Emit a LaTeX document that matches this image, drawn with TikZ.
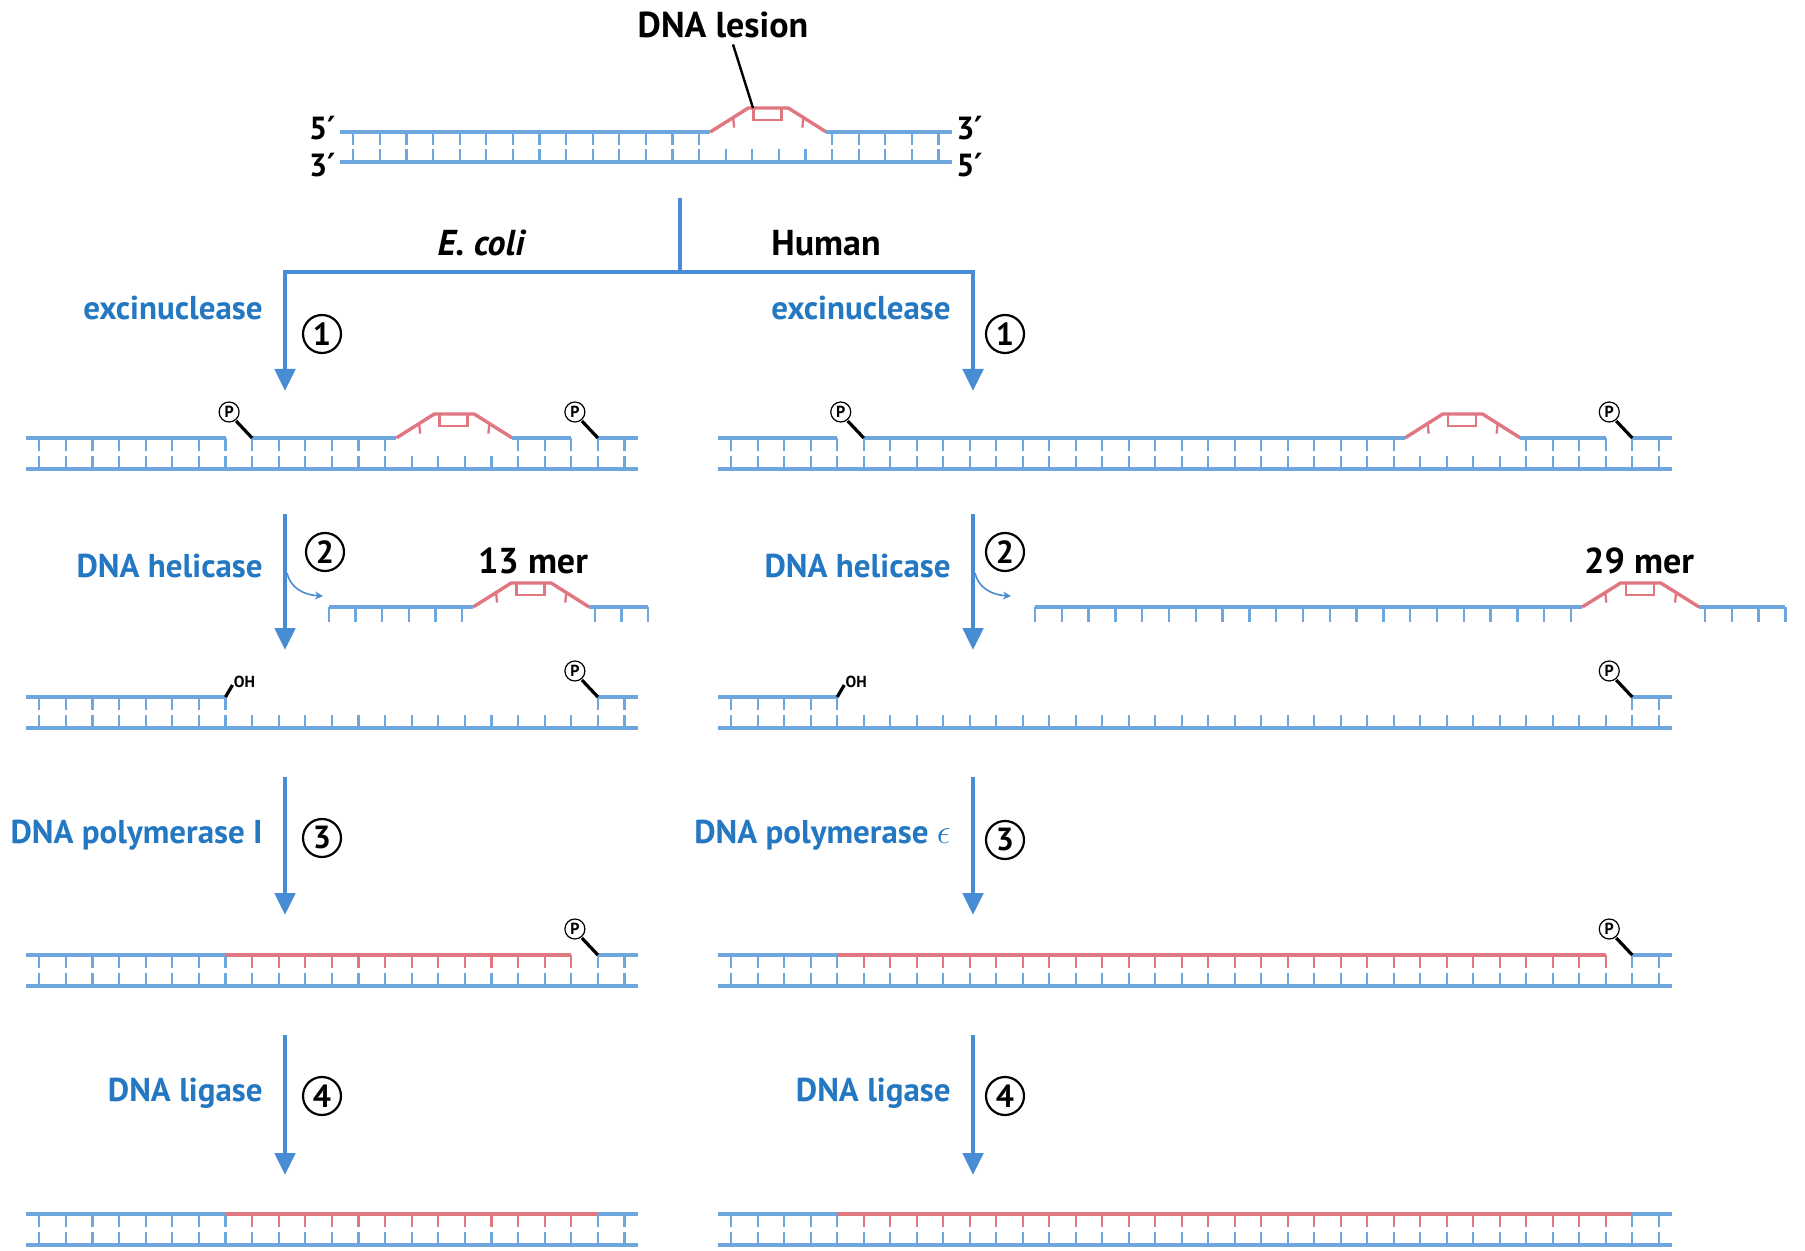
\documentclass[tikz,border=0pt]{standalone}
\usepackage{fontspec}
\setmainfont{PT Sans}
\newfontfamily\primefont{DejaVu Sans}
\usetikzlibrary{arrows.meta}

\definecolor{strandblue}{RGB}{110,166,222}
\definecolor{flowblue}{RGB}{72,140,212}
\definecolor{labelblue}{RGB}{36,120,194}
\definecolor{lesionred}{RGB}{224,118,128}

% ---- helpers for drawing DNA ladders ----
\newcommand\dnaX{0}\newcommand\dnaP{26.6}\newcommand\dnaT{0}\newcommand\dnaB{0}\newcommand\tickl{13}
\newcommand\setdna[4]{\def\dnaX{#1}\def\dnaP{#2}\def\dnaT{#3}\def\dnaB{#4}}
\newcommand\rx[1]{(\dnaX+(#1+0.5)*\dnaP)}
\newcommand\topline[3]{\draw[strand,#3] ({#1},\dnaT) -- ({#2},\dnaT);}
\newcommand\botline[2]{\draw[strand] ({#1},\dnaB) -- ({#2},\dnaB);}
\newcommand\topticks[3]{\foreach \k in {#1,...,#2}{\draw[rungline,#3] ({\rx{\k}},\dnaT) -- ++(0,\tickl);}}
\newcommand\botticks[2]{\foreach \k in {#1,...,#2}{\draw[rungline] ({\rx{\k}},\dnaB) -- ++(0,-\tickl);}}
% pyrimidine dimer bulge after base #1
\newcommand\lesion[1]{%
  \pgfmathsetmacro\lsA{\dnaX+(#1+0.92)*\dnaP}%
  \pgfmathsetmacro\lsE{\dnaX+(#1+5.28)*\dnaP}%
  \pgfmathsetmacro\lsB{\lsA+1.43*\dnaP}%
  \pgfmathsetmacro\lsC{\lsE-1.43*\dnaP}%
  \pgfmathsetmacro\lsH{\dnaT-24}%
  \draw[lesionline] (\lsA,\dnaT) -- (\lsB,\lsH) -- (\lsC,\lsH) -- (\lsE,\dnaT);
  \draw[lesionthin] ({\lsB+0.2*\dnaP},\lsH) rectangle ({\lsB+1.25*\dnaP},{\lsH+12});
  \draw[lesionthin] ({\lsA+0.86*\dnaP},{\dnaT-14.4}) -- ++(1,10);
  \draw[lesionthin] ({\lsE-0.86*\dnaP},{\dnaT-14.4}) -- ++(-1,10);
}
% 5' phosphate and 3' hydroxyl ends
\newcommand\phos[3]{%
  \draw[stemline] ({#2},#3) -- ++(-16,-17);
  \node[pcirc] (#1) at ({#2-23},{#3-26}) {P};}
\newcommand\hydroxyl[3]{%
  \draw[stemline] ({#2},#3) -- ++(7,-12);
  \node[ohtext,anchor=west] (#1) at ({#2+8},{#3-15}) {OH};}
\newcommand\prm{{\primefont\bfseries\char"2032}}

\begin{document}
\begin{tikzpicture}[x=0.5pt,y=-0.5pt,
  strand/.style={line width=2pt,strandblue},
  rungline/.style={line width=1.15pt,strandblue},
  lesionline/.style={line width=1.7pt,lesionred,line join=round},
  lesionthin/.style={line width=1.15pt,lesionred},
  stemline/.style={line width=1.6pt,black},
  flow/.style={line width=2.4pt,flowblue,-{Triangle[width=10pt,length=11pt]}},
  bar/.style={line width=2.4pt,flowblue},
  hookarrow/.style={line width=0.8pt,flowblue,-{Stealth[width=4pt,length=4pt]}},
  leader/.style={line width=1.2pt,black},
  head/.style={font=\bfseries\fontsize{18}{21}\selectfont,text=black,inner sep=0},
  enz/.style={font=\bfseries\fontsize{16.5}{19}\selectfont,text=labelblue,inner sep=0,anchor=east},
  stepnum/.style={circle,draw=black,line width=1.1pt,minimum size=19pt,inner sep=0,
    font=\bfseries\fontsize{16}{18}\selectfont},
  pcirc/.style={circle,draw=black,line width=0.6pt,minimum size=10pt,inner sep=0,fill=white,
    font=\bfseries\fontsize{8}{8}\selectfont},
  ohtext/.style={font=\bfseries\fontsize{8}{8}\selectfont,inner sep=0},
  endlabel/.style={font=\bfseries\fontsize{16}{18}\selectfont,inner sep=0}]

\fill[white] (0,0) rectangle (1805,1251);
\useasboundingbox (0,0) rectangle (1805,1251);

% ---------- damaged duplex ----------
\setdna{340}{26.6}{132}{162}
\lesion{13}
\topline{340}{\lsA}{}
\topline{\lsE}{951.8}{}
\topticks{0}{13}{}\topticks{18}{22}{}
\botline{340}{951.8}
\botticks{0}{22}
\node[endlabel,anchor=east] (t5) at (336,128) {5\prm};
\node[endlabel,anchor=east] (t3) at (336,165) {3\prm};
\node[endlabel,anchor=west] (r3) at (956,128) {3\prm};
\node[endlabel,anchor=west] (r5) at (956,165) {5\prm};
\node[head] (lesionlbl) at (723,25) {DNA lesion};
\coordinate (lestop) at (753,108);
\draw[leader] ([xshift=5pt,yshift=-3pt]lesionlbl.south) -- (lestop);

% ---------- branch ----------
\coordinate (brtop) at (680,198);
\coordinate (brmid) at (680,272);
\coordinate (a1l) at (285,391);
\coordinate (a1r) at (973,391);
\draw[bar] (brtop) -- (brmid);
\draw[flow] (brmid) -| (a1l);
\draw[flow] (brmid) -| (a1r);
\node[head] (ecoli) at (481,243) {\itshape E. coli};
\node[head] (human) at (826,243) {Human};

% ---------- step labels and arrows ----------
\node[enz] (exl) at (263,308) {excinuclease};
\node[enz] (exr) at (951,308) {excinuclease};
\node[stepnum] (n1l) at (322,334) {1};
\node[stepnum] (n1r) at (1005,334) {1};

\coordinate (a2ls) at (285,514); \coordinate (a2le) at (285,650);
\coordinate (a2rs) at (973,514); \coordinate (a2re) at (973,650);
\draw[flow] (a2ls) -- (a2le);
\draw[flow] (a2rs) -- (a2re);
\node[enz] (hell) at (263,566) {DNA helicase};
\node[enz] (helr) at (951,566) {DNA helicase};
\node[stepnum] (n2l) at (325,552) {2};
\node[stepnum] (n2r) at (1005,552) {2};
\coordinate (hkls) at (287,573); \coordinate (hkle) at (323,596);
\coordinate (hkrs) at (975,573); \coordinate (hkre) at (1011,596);
\draw[hookarrow] (hkls) .. controls (290,587) and (303,595) .. (hkle);
\draw[hookarrow] (hkrs) .. controls (978,587) and (991,595) .. (hkre);

\coordinate (a3ls) at (285,777); \coordinate (a3le) at (285,915);
\coordinate (a3rs) at (973,777); \coordinate (a3re) at (973,915);
\draw[flow] (a3ls) -- (a3le);
\draw[flow] (a3rs) -- (a3re);
\node[enz] (poll) at (263,835) {DNA polymerase I};
\node[enz] (polr) at (951,835) {DNA polymerase $\epsilon$};
\node[stepnum] (n3l) at (322,838) {3};
\node[stepnum] (n3r) at (1005,840) {3};

\coordinate (a4ls) at (285,1035); \coordinate (a4le) at (285,1175);
\coordinate (a4rs) at (973,1035); \coordinate (a4re) at (973,1175);
\draw[flow] (a4ls) -- (a4le);
\draw[flow] (a4rs) -- (a4re);
\node[enz] (ligl) at (263,1093) {DNA ligase};
\node[enz] (ligr) at (951,1093) {DNA ligase};
\node[stepnum] (n4l) at (322,1096) {4};
\node[stepnum] (n4r) at (1005,1096) {4};

% ---------- E. coli column ----------
% incised duplex
\setdna{26}{26.6}{438}{469}
\lesion{13}
\topline{26}{\rx{7}}{}
\topline{\rx{8}}{\lsA}{}
\topline{\lsE}{\rx{20}}{}
\topline{\rx{21}}{637.8}{}
\topticks{0}{13}{}\topticks{18}{22}{}
\botline{26}{637.8}\botticks{0}{22}
\phos{pl1a}{\rx{8}}{\dnaT}
\phos{pl1b}{\rx{21}}{\dnaT}
% released 13-mer
\setdna{315.7}{26.6}{607}{0}\def\tickl{15}
\lesion{5}
\topline{\rx{0}}{\lsA}{}
\topline{\lsE}{\rx{12}}{}
\topticks{0}{5}{}\topticks{10}{12}{}
\def\tickl{13}
\node[head] (mer13) at (533,561) {13 mer};
% gapped duplex
\setdna{26}{26.6}{697}{728}
\topline{26}{\rx{7}}{}\topticks{0}{7}{}
\topline{\rx{21}}{637.8}{}\topticks{21}{22}{}
\botline{26}{637.8}\botticks{0}{22}
\hydroxyl{ohl}{\rx{7}}{\dnaT}
\phos{pl2}{\rx{21}}{\dnaT}
% filled gap
\setdna{26}{26.6}{955}{986}
\topline{26}{\rx{7}}{}\topticks{0}{7}{}
\topline{\rx{7}}{\rx{20}}{lesionred}\topticks{8}{20}{lesionred}
\topline{\rx{21}}{637.8}{}\topticks{21}{22}{}
\botline{26}{637.8}\botticks{0}{22}
\phos{pl3}{\rx{21}}{\dnaT}
% sealed duplex
\setdna{26}{26.6}{1214}{1245}
\topline{26}{\rx{7}}{}\topticks{0}{7}{}
\topline{\rx{7}}{\rx{21}}{lesionred}\topticks{8}{20}{lesionred}
\topline{\rx{21}}{637.8}{}\topticks{21}{22}{}
\botline{26}{637.8}\botticks{0}{22}

% ---------- human column ----------
\setdna{718}{26.5}{438}{469}
\lesion{25}
\topline{718}{\rx{4}}{}
\topline{\rx{5}}{\lsA}{}
\topline{\lsE}{\rx{33}}{}
\topline{\rx{34}}{1672}{}
\topticks{0}{25}{}\topticks{30}{35}{}
\botline{718}{1672}\botticks{0}{35}
\phos{pr1a}{\rx{5}}{\dnaT}
\phos{pr1b}{\rx{34}}{\dnaT}
% released 29-mer
\setdna{1021.6}{26.8}{607}{0}\def\tickl{15}
\lesion{20}
\topline{\rx{0}}{\lsA}{}
\topline{\lsE}{\rx{28}}{}
\topticks{0}{20}{}\topticks{25}{28}{}
\def\tickl{13}
\node[head] (mer29) at (1639,561) {29 mer};
% gapped duplex
\setdna{718}{26.5}{697}{728}
\topline{718}{\rx{4}}{}\topticks{0}{4}{}
\topline{\rx{34}}{1672}{}\topticks{34}{35}{}
\botline{718}{1672}\botticks{0}{35}
\hydroxyl{ohr}{\rx{4}}{\dnaT}
\phos{pr2}{\rx{34}}{\dnaT}
% filled gap
\setdna{718}{26.5}{955}{986}
\topline{718}{\rx{4}}{}\topticks{0}{4}{}
\topline{\rx{4}}{\rx{33}}{lesionred}\topticks{5}{33}{lesionred}
\topline{\rx{34}}{1672}{}\topticks{34}{35}{}
\botline{718}{1672}\botticks{0}{35}
\phos{pr3}{\rx{34}}{\dnaT}
% sealed duplex
\setdna{718}{26.5}{1214}{1245}
\topline{718}{\rx{4}}{}\topticks{0}{4}{}
\topline{\rx{4}}{\rx{34}}{lesionred}\topticks{5}{33}{lesionred}
\topline{\rx{34}}{1672}{}\topticks{34}{35}{}
\botline{718}{1672}\botticks{0}{35}
\end{tikzpicture}
\end{document}
